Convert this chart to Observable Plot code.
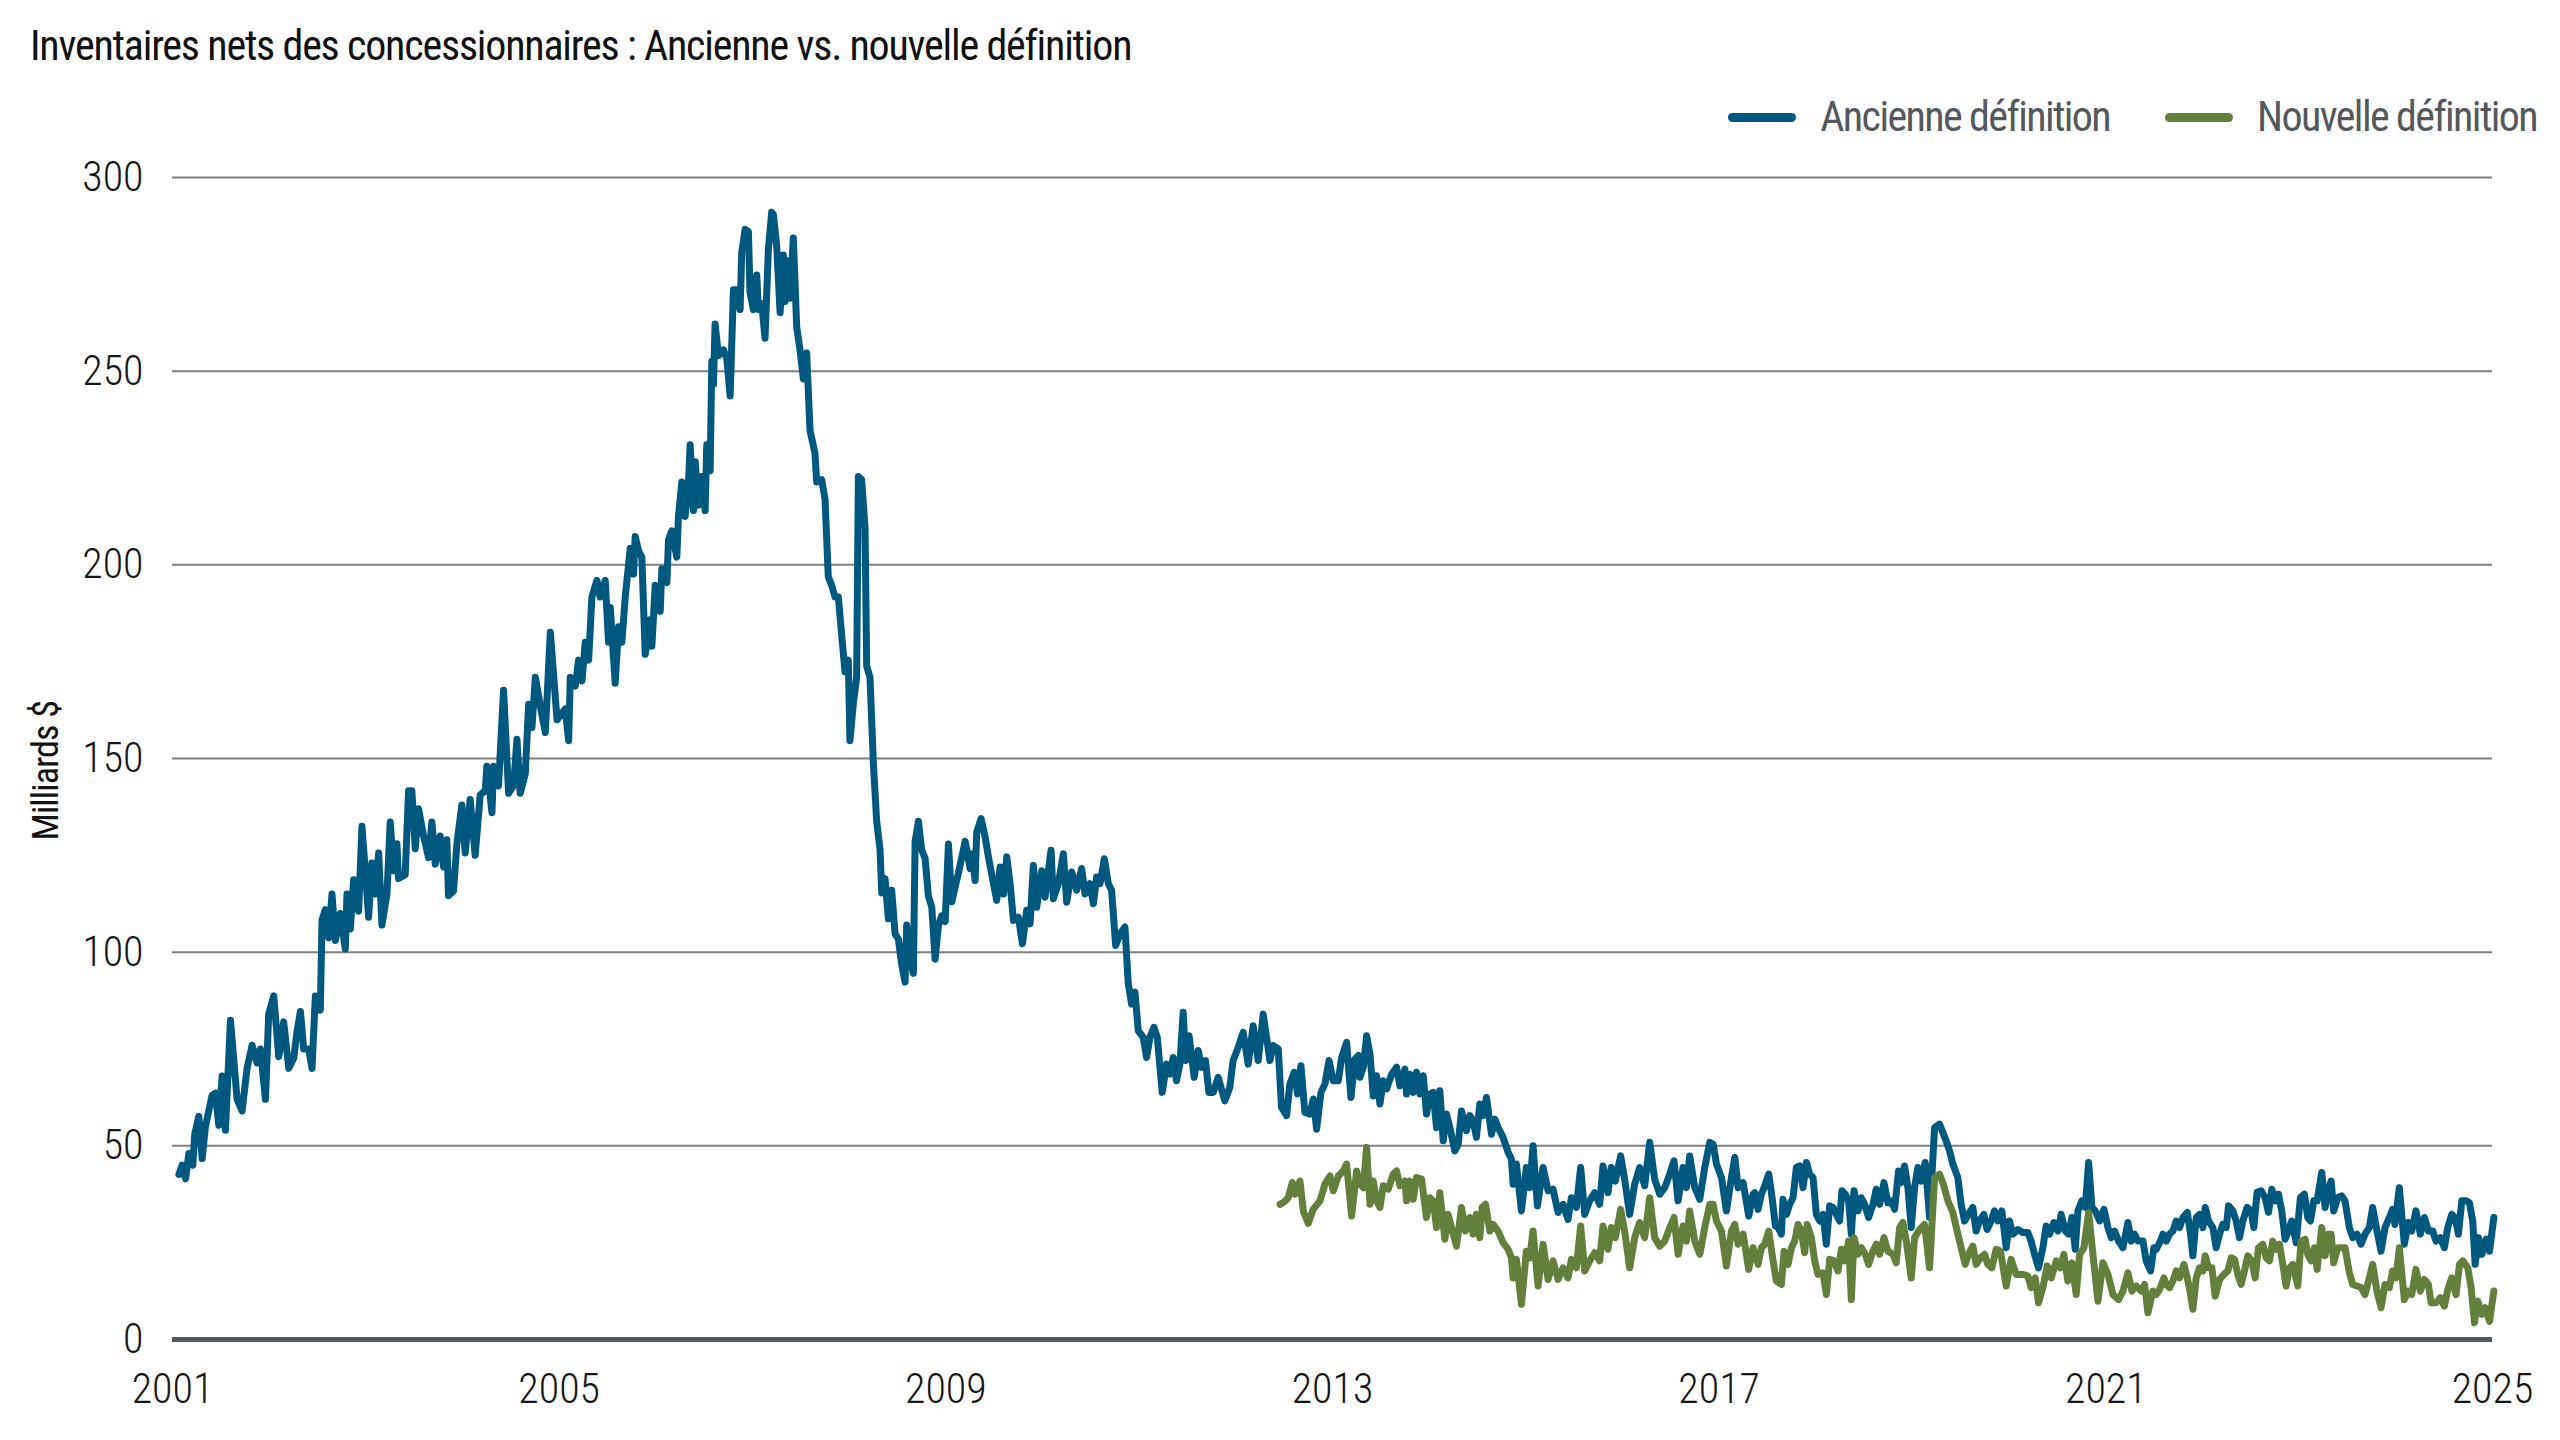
<!DOCTYPE html>
<html lang="fr">
<head>
<meta charset="utf-8">
<script src="https://cdn.jsdelivr.net/npm/d3@7"></script>
<script src="https://cdn.jsdelivr.net/npm/@observablehq/plot@0.6"></script>
<style>
  html, body { margin: 0; padding: 0; background: #ffffff; }
  body { width: 2560px; height: 1440px; position: relative; overflow: hidden;
         font-family: "Roboto Condensed", "Liberation Sans Narrow", "DejaVu Sans Condensed", Roboto, sans-serif;
         font-stretch: condensed; }
  #chart { position: absolute; left: 0; top: 0; }
  #title { position: absolute; left: 30px; top: 25px; font-size: 42px; line-height: 1; font-weight: 400;
           letter-spacing: -1.2px; color: #111111; white-space: nowrap; z-index: 2; }
  #legend { position: absolute; right: 23px; top: 96px; display: flex; align-items: center; z-index: 2;
            font-size: 42px; line-height: 1; font-weight: 400; letter-spacing: -1.6px; color: #54585d; white-space: nowrap; }
  .item { display: flex; align-items: center; }
  .item + .item { margin-left: 55px; }
  .sw { width: 68px; height: 9px; border-radius: 4.5px; margin-right: 24px; }
</style>
</head>
<body>
<div id="title"></div>
<div id="legend"></div>
<div id="chart"></div>
<script>
// ---- Data (decimal year, billions $) ----
const titleText = "Inventaires nets des concessionnaires : Ancienne vs. nouvelle définition";
const yLabel = "Milliards $";
const seriesNames = ["Ancienne définition", "Nouvelle définition"];
const seriesColors = ["#00587f", "#62803b"];
const xTickYears = [2001, 2005, 2009, 2013, 2017, 2021, 2025];
const yTicks = [0, 50, 100, 150, 200, 250, 300];

const ancienne2001_2004 = [
[2001.066,42.6],[2001.100,45],[2001.135,41.5],[2001.169,48],[2001.210,45],[2001.230,53],[2001.272,57.6],[2001.307,46.7],
[2001.341,55],[2001.410,63],[2001.445,63.6],[2001.479,55.3],[2001.514,68],[2001.548,54],[2001.600,82.4],[2001.669,62],
[2001.720,59],[2001.772,70],[2001.824,76],[2001.876,71.4],[2001.910,75],[2001.962,62],[2001.996,84],[2002.048,88.7],
[2002.100,73],[2002.151,82],[2002.203,70],[2002.255,72.6],[2002.289,79.5],[2002.324,84.7],[2002.358,75],[2002.410,75],
[2002.444,70],[2002.479,88.7],[2002.530,85],[2002.548,108.3],[2002.582,111],[2002.617,103.7],[2002.651,115],[2002.686,103],
[2002.737,110],[2002.789,100.8],[2002.806,115],[2002.841,106],[2002.875,118.7],[2002.927,110.6],[2002.961,132.5],[2002.996,121],
[2003.030,109],[2003.065,123],[2003.099,115],[2003.134,125.6],[2003.168,107],[2003.220,115],[2003.254,133.6],[2003.289,121],
[2003.323,128],[2003.340,119],[2003.409,120],[2003.444,141.7],[2003.478,141.7],[2003.513,126.7],[2003.547,137],[2003.599,130],
[2003.651,124.4],[2003.685,133.6],[2003.720,122.7],[2003.771,130],[2003.806,122],[2003.840,129],[2003.857,114.6],[2003.909,115.8],
[2003.944,128],[2003.995,138],[2004.030,125.6],[2004.081,139.4],[2004.133,125],[2004.185,140.6],[2004.237,141.7],[2004.254,148],
[2004.306,136],[2004.323,148],[2004.374,142.9],[2004.426,167.6],[2004.478,141],[2004.530,143],[2004.564,155],[2004.598,141],
[2004.650,146],[2004.685,164],[2004.719,158],[2004.754,171],[2004.805,163.6],[2004.857,156.7],[2004.909,182.6],[2004.978,160]
];
const ancienne2005_2008 = [
[2005.063,162.8],[2005.098,154.6],[2005.115,171],[2005.167,168.7],[2005.201,175.4],[2005.236,170],[2005.270,180],[2005.305,175.4],
[2005.339,191.7],[2005.391,196],[2005.425,191.7],[2005.477,196],[2005.511,180],[2005.529,189],[2005.580,169.4],[2005.615,184],
[2005.649,180],[2005.684,191.7],[2005.736,204.3],[2005.770,197.6],[2005.787,207.3],[2005.822,203.6],[2005.856,202],[2005.891,176.9],
[2005.942,185.8],[2005.960,179],[2005.994,194.7],[2006.046,188],[2006.063,199],[2006.115,195.4],[2006.132,206.5],[2006.166,208.8],
[2006.218,202],[2006.235,212.5],[2006.270,221.4],[2006.304,212.5],[2006.339,221.4],[2006.356,231],[2006.390,214],[2006.408,226.6],
[2006.442,215.4],[2006.477,222.8],[2006.511,214],[2006.528,231],[2006.563,224.3],[2006.580,252.5],[2006.597,246.6],[2006.614,262.2],
[2006.649,254],[2006.701,255.5],[2006.735,253.3],[2006.770,243.6],[2006.804,271],[2006.838,271],[2006.873,265.9],[2006.890,280.7],
[2006.925,286.6],[2006.959,286],[2006.976,270.3],[2007.011,265.9],[2007.045,274.8],[2007.063,265.9],[2007.097,267.4],[2007.131,258.5],
[2007.166,281.5],[2007.200,291],[2007.218,290.4],[2007.252,282.2],[2007.287,265.1],[2007.321,280],[2007.338,268],[2007.373,278.5],
[2007.390,268.8],[2007.424,284.4],[2007.459,261.4],[2007.493,255.5],[2007.528,248],[2007.562,254.7],[2007.597,234.7],[2007.648,228.8],
[2007.666,221.4],[2007.717,222],[2007.752,217],[2007.786,196.9],[2007.821,194.7],[2007.855,191.7],[2007.890,191.7],[2007.924,182],
[2007.959,172.4],[2007.993,175.4],[2008.010,154.6],[2008.045,164.2],[2008.079,171],[2008.097,222.8],[2008.131,222],[2008.166,209.5],
[2008.183,173.9],[2008.217,171],[2008.252,148.7],[2008.286,133.8],[2008.321,126.4],[2008.338,115.3],[2008.372,119],[2008.407,108.6],
[2008.441,116],[2008.476,104.7],[2008.510,103.4],[2008.545,96.7],[2008.579,92.3],[2008.596,107],[2008.631,98],[2008.665,94.5],
[2008.683,128.6],[2008.717,133.8],[2008.751,126.4],[2008.786,124.2],[2008.820,114.5],[2008.855,111.6],[2008.889,98.2],[2008.924,107],
[2008.958,109.4],[2008.993,107.9]
];
const ancienne2009_2012 = [
[2009.027,127.9],[2009.062,113],[2009.096,116.8],[2009.131,120.5],[2009.200,128.6],[2009.252,121.6],[2009.269,125.4],[2009.303,118.5],
[2009.320,131],[2009.365,134.5],[2009.407,129.7],[2009.441,124.6],[2009.493,117.7],[2009.527,113.4],[2009.562,122],[2009.596,115],
[2009.631,124.6],[2009.665,117.7],[2009.700,108.2],[2009.751,109],[2009.793,102.2],[2009.837,110.8],[2009.872,107.3],[2009.906,122.4],
[2009.941,111.6],[2009.993,121],[2010.027,114.2],[2010.061,121],[2010.089,126.3],[2010.113,113.8],[2010.165,117.7],[2010.217,125.4],
[2010.251,112.9],[2010.303,120.7],[2010.354,116],[2010.406,121.6],[2010.441,115],[2010.492,117.7],[2010.527,112.5],[2010.561,119.4],
[2010.596,117.7],[2010.641,124.1],[2010.682,117.7],[2010.716,116],[2010.758,101.7],[2010.803,104.7],[2010.854,106.5],[2010.889,91.8],
[2010.923,86.6],[2010.958,89.7],[2010.992,79.7],[2011.044,78],[2011.078,72.8],[2011.113,78],[2011.154,80.6],[2011.189,78],
[2011.240,63.8],[2011.285,71.1],[2011.320,68.5],[2011.354,72.8],[2011.388,66.8],[2011.423,71.1],[2011.457,84.5],[2011.482,72],
[2011.519,78.4],[2011.571,67.7],[2011.613,74.6],[2011.647,70.3],[2011.688,72],[2011.723,63.8],[2011.768,63.8],[2011.819,67.7],
[2011.888,61.6],[2011.940,65.1],[2011.974,72],[2012.026,75.4],[2012.078,79.3],[2012.130,71.1],[2012.181,81],[2012.233,72],
[2012.285,84],[2012.319,78],[2012.354,72],[2012.388,75.9],[2012.440,75],[2012.474,59.9],[2012.526,57.8],[2012.560,66],
[2012.605,69],[2012.640,63.4],[2012.674,70.7],[2012.715,58.6],[2012.767,58.2],[2012.802,62.1],[2012.836,54.3],[2012.881,63.8],
[2012.922,66],[2012.964,72],[2013.008,66.8],[2013.060,66.8],[2013.095,72.8],[2013.146,76.7],[2013.191,62.5]
];
const ancienne2013_2016 = [
[2013.232,72.4],[2013.267,73.3],[2013.284,67.7],[2013.319,70.3],[2013.353,78.4],[2013.388,73.7],[2013.422,62.9],[2013.456,68.1],
[2013.491,60.8],[2013.525,66.8],[2013.560,64.7],[2013.612,68.5],[2013.663,70.3],[2013.698,65.5],[2013.749,69.8],[2013.767,63.4],
[2013.801,68.5],[2013.836,63.8],[2013.870,69],[2013.905,63.4],[2013.939,68.1],[2013.973,58.2],[2014.008,63.4],[2014.042,63.8],
[2014.077,54.7],[2014.111,64.2],[2014.146,51.3],[2014.180,58.2],[2014.215,54.7],[2014.266,48.7],[2014.301,50.4],[2014.335,59],
[2014.387,53.9],[2014.422,57.8],[2014.456,56.5],[2014.490,52.2],[2014.525,60.8],[2014.559,57.8],[2014.594,62.5],[2014.646,53],
[2014.680,56.9],[2014.714,54.7],[2014.766,52.2],[2014.818,48.3],[2014.852,46.6],[2014.870,40.1],[2014.904,45.3],[2014.956,33.2],
[2015.007,44.4],[2015.042,39.2],[2015.076,50],[2015.121,34.5],[2015.180,44.4],[2015.232,38.4],[2015.283,38.8],[2015.335,32.8],
[2015.387,34.9],[2015.438,31],[2015.473,36.6],[2015.524,34.1],[2015.569,44.4],[2015.611,32.3],[2015.662,35.8],[2015.714,37.9],
[2015.766,34.9],[2015.800,44.8],[2015.852,37.9],[2015.886,44.4],[2015.928,40.9],[2015.983,47.4],[2016.024,41.4],[2016.076,32.3],
[2016.128,40.1],[2016.179,44.4],[2016.231,39.7],[2016.283,50.9],[2016.334,41.4],[2016.386,37.5],[2016.438,39.2],[2016.490,42.7],
[2016.534,46.1],[2016.576,35.8],[2016.627,44.4],[2016.662,39.2],[2016.696,47.4],[2016.748,39.2],[2016.800,36.2],[2016.851,44.4],
[2016.903,50.9],[2016.938,50.4],[2016.972,45.3],[2017.024,41.8],[2017.075,33.2],[2017.127,41.8],[2017.162,47],[2017.196,39.2],
[2017.248,40.5],[2017.306,31.9],[2017.351,37.5]
];
const ancienne2017_2020 = [
[2017.368,37.9],[2017.403,33.6],[2017.437,37.5],[2017.472,39.7],[2017.513,42.7],[2017.548,36.6],[2017.582,29.3],[2017.610,28.9],
[2017.644,27.2],[2017.661,36.2],[2017.696,32.3],[2017.730,34.9],[2017.765,36.6],[2017.799,44.4],[2017.834,44.8],[2017.868,39.2],
[2017.903,45.7],[2017.937,42.7],[2017.972,41.8],[2018.006,32.3],[2018.041,30.6],[2018.075,32.3],[2018.109,24.6],[2018.144,34.5],
[2018.178,34.1],[2018.213,32.3],[2018.247,30.6],[2018.271,38.4],[2018.306,37.5],[2018.340,35.8],[2018.368,27.2],[2018.396,38.4],
[2018.437,33.2],[2018.471,36.6],[2018.506,34.9],[2018.547,31.5],[2018.592,34.9],[2018.626,38.8],[2018.661,34.9],[2018.706,40.5],
[2018.747,35.3],[2018.782,35.8],[2018.816,33.6],[2018.857,43.5],[2018.885,40.5],[2018.919,44.8],[2018.954,39.2],[2018.988,28.9],
[2019.023,39.2],[2019.057,44.4],[2019.092,40.9],[2019.133,45.7],[2019.178,31.5],[2019.230,54.7],[2019.281,55.6],[2019.316,53.4],
[2019.350,51.3],[2019.385,48.7],[2019.419,45.3],[2019.471,41.8],[2019.505,34.9],[2019.540,30.6],[2019.581,32.3],[2019.626,34.1],
[2019.660,28],[2019.695,30.6],[2019.740,32.3],[2019.774,28.4],[2019.816,30.6],[2019.850,33.2],[2019.885,30.6],[2019.926,33.2],
[2019.971,23.7],[2020.005,30.6],[2020.040,27.2],[2020.091,28.4],[2020.143,27.6],[2020.195,27.6],[2020.229,25.4],[2020.264,22],
[2020.305,18.5],[2020.350,23.7],[2020.384,29.3],[2020.419,27.2],[2020.464,30.2],[2020.505,28],[2020.539,32.3],[2020.581,28],
[2020.615,27.2],[2020.650,31.5],[2020.684,23.3],[2020.712,33.2],[2020.753,35.8],[2020.788,34.1],[2020.822,45.7],[2020.857,34.1],
[2020.891,33.2],[2020.936,30.6],[2020.981,33.6]
];
const ancienne2021_2024 = [
[2021.022,28.9],[2021.056,26.3],[2021.091,28],[2021.132,25.4],[2021.177,23.7],[2021.229,30.2],[2021.263,25.4],[2021.298,27.2],
[2021.332,25.4],[2021.384,25.4],[2021.418,20.3],[2021.463,17.7],[2021.498,23.7],[2021.522,23.3],[2021.557,25],[2021.591,27.2],
[2021.625,25.4],[2021.660,27.2],[2021.694,28],[2021.729,30.6],[2021.763,28.9],[2021.798,31.5],[2021.843,32.8],[2021.877,27.2],
[2021.901,21.6],[2021.936,31.5],[2021.970,32.3],[2022.005,28.9],[2022.029,34.1],[2022.063,30.6],[2022.108,28.9],[2022.142,23.7],
[2022.177,27.2],[2022.211,29.7],[2022.246,28.9],[2022.270,34.5],[2022.315,33.2],[2022.349,30.6],[2022.384,26.3],[2022.418,30.6],
[2022.463,34.1],[2022.504,33.2],[2022.532,28.9],[2022.566,38],[2022.608,38.4],[2022.649,36.6],[2022.684,32.8],[2022.718,38.8],
[2022.753,35.8],[2022.787,37.5],[2022.821,33.2],[2022.856,25.9],[2022.890,28],[2022.925,30.6],[2022.970,25],[2023.014,36.6],
[2023.056,37.5],[2023.090,31.5],[2023.118,30.6],[2023.152,35.8],[2023.187,35.8],[2023.235,43.1],[2023.270,34.1],[2023.297,38.4],
[2023.332,40.9],[2023.359,33.2],[2023.401,36.6],[2023.442,37.1],[2023.476,35.8],[2023.521,28.9],[2023.556,26.3],[2023.600,27.2],
[2023.642,24.6],[2023.683,27.2],[2023.728,28.9],[2023.762,34.1],[2023.807,28],[2023.849,22.8],[2023.890,28.9],[2023.935,31.5],
[2023.969,33.6],[2023.993,29.7],[2024.038,39.2],[2024.090,24.6],[2024.131,30.2],[2024.166,28],[2024.210,33.2],[2024.255,27.2],
[2024.297,31.5],[2024.338,28],[2024.383,28],[2024.417,25.4],[2024.462,26.3],[2024.503,23.7],[2024.538,28.9],[2024.579,32.3],
[2024.614,31.5],[2024.648,27.2],[2024.683,35.8],[2024.728,35.8],[2024.762,35.3],[2024.796,30.6],[2024.821,19.4],[2024.855,26.3],
[2024.890,22],[2024.934,25.9],[2024.969,22.8],[2025.014,31.5]
];

const nouvelle2012_2016 = [
[2012.457,34.9],[2012.500,35.5],[2012.543,36.6],[2012.585,40.5],[2012.612,37.5],[2012.664,40.9],[2012.700,33],[2012.750,30],
[2012.800,33.6],[2012.871,35.8],[2012.922,40.1],[2012.974,42.2],[2013.008,38.4],[2013.060,42.2],[2013.112,43.5],[2013.146,45.3],
[2013.198,31.9],[2013.250,43.5],[2013.284,40.1],[2013.319,39.2],[2013.353,49.6],[2013.388,34.9],[2013.422,40.9],[2013.456,35.8],
[2013.491,34.1],[2013.525,39.7],[2013.577,38.8],[2013.629,42.7],[2013.663,43.5],[2013.698,39.7],[2013.749,40.9],[2013.767,35.8],
[2013.801,40.9],[2013.836,36.2],[2013.870,41.8],[2013.922,41.4],[2013.973,31.5],[2014.008,36.6],[2014.042,35.8],[2014.077,28.9],
[2014.111,37.9],[2014.163,25.9],[2014.197,32.3],[2014.232,28.9],[2014.284,24.1],[2014.335,34.1],[2014.377,28],[2014.422,31.5],
[2014.456,27.2],[2014.490,32.3],[2014.525,26.3],[2014.549,34.1],[2014.584,34.9],[2014.628,28],[2014.663,29.7],[2014.714,28],
[2014.766,25],[2014.818,23.3],[2014.852,21.1],[2014.870,15.9],[2014.904,20.7],[2014.956,9.1],[2015.007,22.8],[2015.042,21.1],
[2015.076,28],[2015.128,13.8],[2015.180,24.6],[2015.232,15.5],[2015.283,20.3],[2015.335,15.5],[2015.387,18.5],[2015.438,15.9],
[2015.473,20.7],[2015.524,18.5],[2015.569,29.3],[2015.611,17.7],[2015.662,20.3],[2015.714,22.4],[2015.766,20.3],[2015.800,29.3],
[2015.852,23.3],[2015.886,28.9],[2015.928,26.3],[2015.983,33.6],[2016.024,28],[2016.076,18.5],[2016.128,26.3],[2016.179,30.2],
[2016.231,26.3],[2016.283,36.6],[2016.334,26.3],[2016.386,24.1],[2016.438,25.4],[2016.490,28.9],[2016.534,31.5],[2016.576,22],
[2016.627,29.3],[2016.662,25.4],[2016.696,33.2],[2016.748,25.4],[2016.800,22],[2016.851,28.9],[2016.903,34.9],[2016.938,34.9],
[2016.972,30.6],[2017.024,28],[2017.075,19],[2017.127,28],[2017.162,29.7],[2017.196,24.6],[2017.248,27.2],[2017.306,18.1],
[2017.351,23.7]
];
const nouvelle2017_2020 = [
[2017.403,19.4],[2017.437,23.7],[2017.472,24.6],[2017.513,28],[2017.548,22],[2017.592,15.1],[2017.644,14.2],[2017.672,22.8],
[2017.713,19.4],[2017.748,23.7],[2017.782,25.4],[2017.816,29.7],[2017.851,28],[2017.885,22.4],[2017.910,29.7],[2017.954,26.3],
[2017.989,20.3],[2018.023,16.8],[2018.075,17.2],[2018.109,11.6],[2018.144,20.7],[2018.189,20.3],[2018.230,17.7],[2018.265,23.3],
[2018.299,20.3],[2018.340,25.4],[2018.368,10.3],[2018.396,26.3],[2018.437,22],[2018.471,23.7],[2018.513,22],[2018.547,19.4],
[2018.592,22.8],[2018.626,24.6],[2018.661,22],[2018.706,26.3],[2018.747,22.8],[2018.799,22],[2018.833,19.8],[2018.868,28.9],
[2018.902,30.2],[2018.937,25.4],[2018.988,15.9],[2019.023,26.3],[2019.075,28.4],[2019.126,29.7],[2019.178,18.5],[2019.230,41.8],
[2019.281,42.7],[2019.326,39.7],[2019.368,35.8],[2019.419,32.8],[2019.471,27.2],[2019.505,23.7],[2019.547,19.4],[2019.581,22],
[2019.626,24.1],[2019.660,19.4],[2019.705,21.1],[2019.747,22],[2019.781,19.4],[2019.822,18.5],[2019.867,23.3],[2019.912,22.8],
[2019.971,13.8],[2020.022,20.7],[2020.074,16.8],[2020.143,16.8],[2020.195,16.4],[2020.229,13.4],[2020.271,15.9],[2020.305,9.5],
[2020.350,13.4],[2020.395,19],[2020.436,15.9],[2020.488,20.3],[2020.532,18.5],[2020.567,22],[2020.608,15.1],[2020.650,19.8],
[2020.694,11.6],[2020.729,22],[2020.774,23.7],[2020.822,32.8],[2020.867,22],[2020.919,9.9],[2020.970,19.8]
];
const nouvelle2021_2024 = [
[2021.022,16.8],[2021.074,11.6],[2021.132,10.3],[2021.177,12.5],[2021.229,17.2],[2021.270,12.5],[2021.315,13.8],[2021.367,12.5],
[2021.401,14.2],[2021.436,6.9],[2021.487,12.5],[2021.522,11.6],[2021.557,12.9],[2021.601,15.9],[2021.625,14.2],[2021.660,13.4],
[2021.694,15.1],[2021.729,17.7],[2021.763,15.9],[2021.808,19.4],[2021.843,15.9],[2021.877,11.6],[2021.901,7.8],[2021.936,15.9],
[2021.970,18.5],[2022.005,17.7],[2022.029,21.6],[2022.063,18.5],[2022.098,18.5],[2022.132,11.2],[2022.177,15.5],[2022.222,16.8],
[2022.263,17.7],[2022.298,21.1],[2022.332,20.7],[2022.366,16.8],[2022.401,14.2],[2022.435,17.7],[2022.470,21.6],[2022.511,20.3],
[2022.546,15.9],[2022.580,23.7],[2022.625,24.6],[2022.659,21.1],[2022.694,20.3],[2022.728,25.4],[2022.763,23.3],[2022.797,24.6],
[2022.832,19.4],[2022.866,13.8],[2022.901,18.5],[2022.935,19.4],[2022.987,13.8],[2023.021,25.4],[2023.063,25.9],[2023.090,22],
[2023.125,20.3],[2023.159,23.7],[2023.187,18.1],[2023.235,28.9],[2023.270,21.6],[2023.304,27.2],[2023.332,27.2],[2023.359,19.8],
[2023.401,23.7],[2023.442,23.7],[2023.476,23.7],[2023.521,17.2],[2023.556,14.2],[2023.600,13.8],[2023.642,13.4],[2023.683,11.6],
[2023.728,15.9],[2023.762,19.4],[2023.807,12.5],[2023.849,8.2],[2023.890,14.2],[2023.935,13.4],[2023.969,17.7],[2024.004,15.9],
[2024.038,23.7],[2024.090,10.3],[2024.131,12.5],[2024.166,11.6],[2024.210,18.1],[2024.255,12.5],[2024.297,15.5],[2024.338,14.2],
[2024.366,9.5],[2024.417,9.5],[2024.462,10.8],[2024.503,8.6],[2024.538,12.9],[2024.579,15.9],[2024.624,11.6],[2024.659,19.4],
[2024.693,20.3],[2024.745,18.5],[2024.779,13.4],[2024.814,4.3],[2024.848,9.9],[2024.890,6.5],[2024.924,8.2],[2024.969,4.7],
[2025.014,12.5]
];

// ---- Build tables ----
function decYear(y) {
  const yr = Math.floor(y);
  const a = Date.UTC(yr, 0, 1), b = Date.UTC(yr + 1, 0, 1);
  return new Date(a + (y - yr) * (b - a));
}
const toRows = (arr, name) => arr.map(([t, v]) => ({date: decYear(t), value: v, series: name}));
const ancienne = [ancienne2001_2004, ancienne2005_2008, ancienne2009_2012, ancienne2013_2016, ancienne2017_2020, ancienne2021_2024].flat();
const nouvelle = [nouvelle2012_2016, nouvelle2017_2020, nouvelle2021_2024].flat();
const rowsA = toRows(ancienne, seriesNames[0]);
const rowsN = toRows(nouvelle, seriesNames[1]);

const FONT = '"Roboto Condensed", "Liberation Sans Narrow", "DejaVu Sans Condensed", Roboto, sans-serif';

// ---- Title & legend ----
document.getElementById("title").textContent = titleText;
const legend = document.getElementById("legend");
seriesNames.forEach((name, i) => {
  const item = document.createElement("div");
  item.className = "item";
  const sw = document.createElement("div");
  sw.className = "sw";
  sw.style.background = seriesColors[i];
  const label = document.createElement("span");
  label.textContent = name;
  item.appendChild(sw);
  item.appendChild(label);
  legend.appendChild(item);
});

// ---- Chart ----
const chart = Plot.plot({
  width: 2560,
  height: 1440,
  marginLeft: 172,
  marginRight: 68,
  marginTop: 177,
  marginBottom: 101,
  style: {fontFamily: FONT, fontSize: "42px", fontWeight: 300, color: "#161616", background: "transparent", fontStretch: "condensed"},
  x: {type: "utc", domain: [decYear(2001), decYear(2025)]},
  y: {domain: [0, 300]},
  marks: [
    Plot.ruleY(yTicks.filter(d => d > 0), {stroke: "#808080", strokeWidth: 2}),
    Plot.axisX({ticks: xTickYears.map(decYear), tickFormat: d3.utcFormat("%Y"), tickSize: 0, tickPadding: 34, label: null}),
    Plot.axisY({ticks: yTicks, tickSize: 0, tickPadding: 29, label: null}),
    Plot.line(rowsA, {x: "date", y: "value", stroke: seriesColors[0], strokeWidth: 7, strokeLinejoin: "round", strokeLinecap: "round"}),
    Plot.line(rowsN, {x: "date", y: "value", stroke: seriesColors[1], strokeWidth: 7, strokeLinejoin: "round", strokeLinecap: "round"}),
    Plot.ruleY([0], {stroke: "#53585e", strokeWidth: 5}),
    Plot.text([yLabel], {text: d => d, frameAnchor: "left", dx: -126, dy: 82, rotate: -90, fontSize: 36, fontWeight: 400, fill: "#111111"})
  ]
});
chart.querySelectorAll("text").forEach(t => {
  if (t.textContent === yLabel) t.style.letterSpacing = "-0.8px";
});
document.getElementById("chart").appendChild(chart);
</script>
</body>
</html>
